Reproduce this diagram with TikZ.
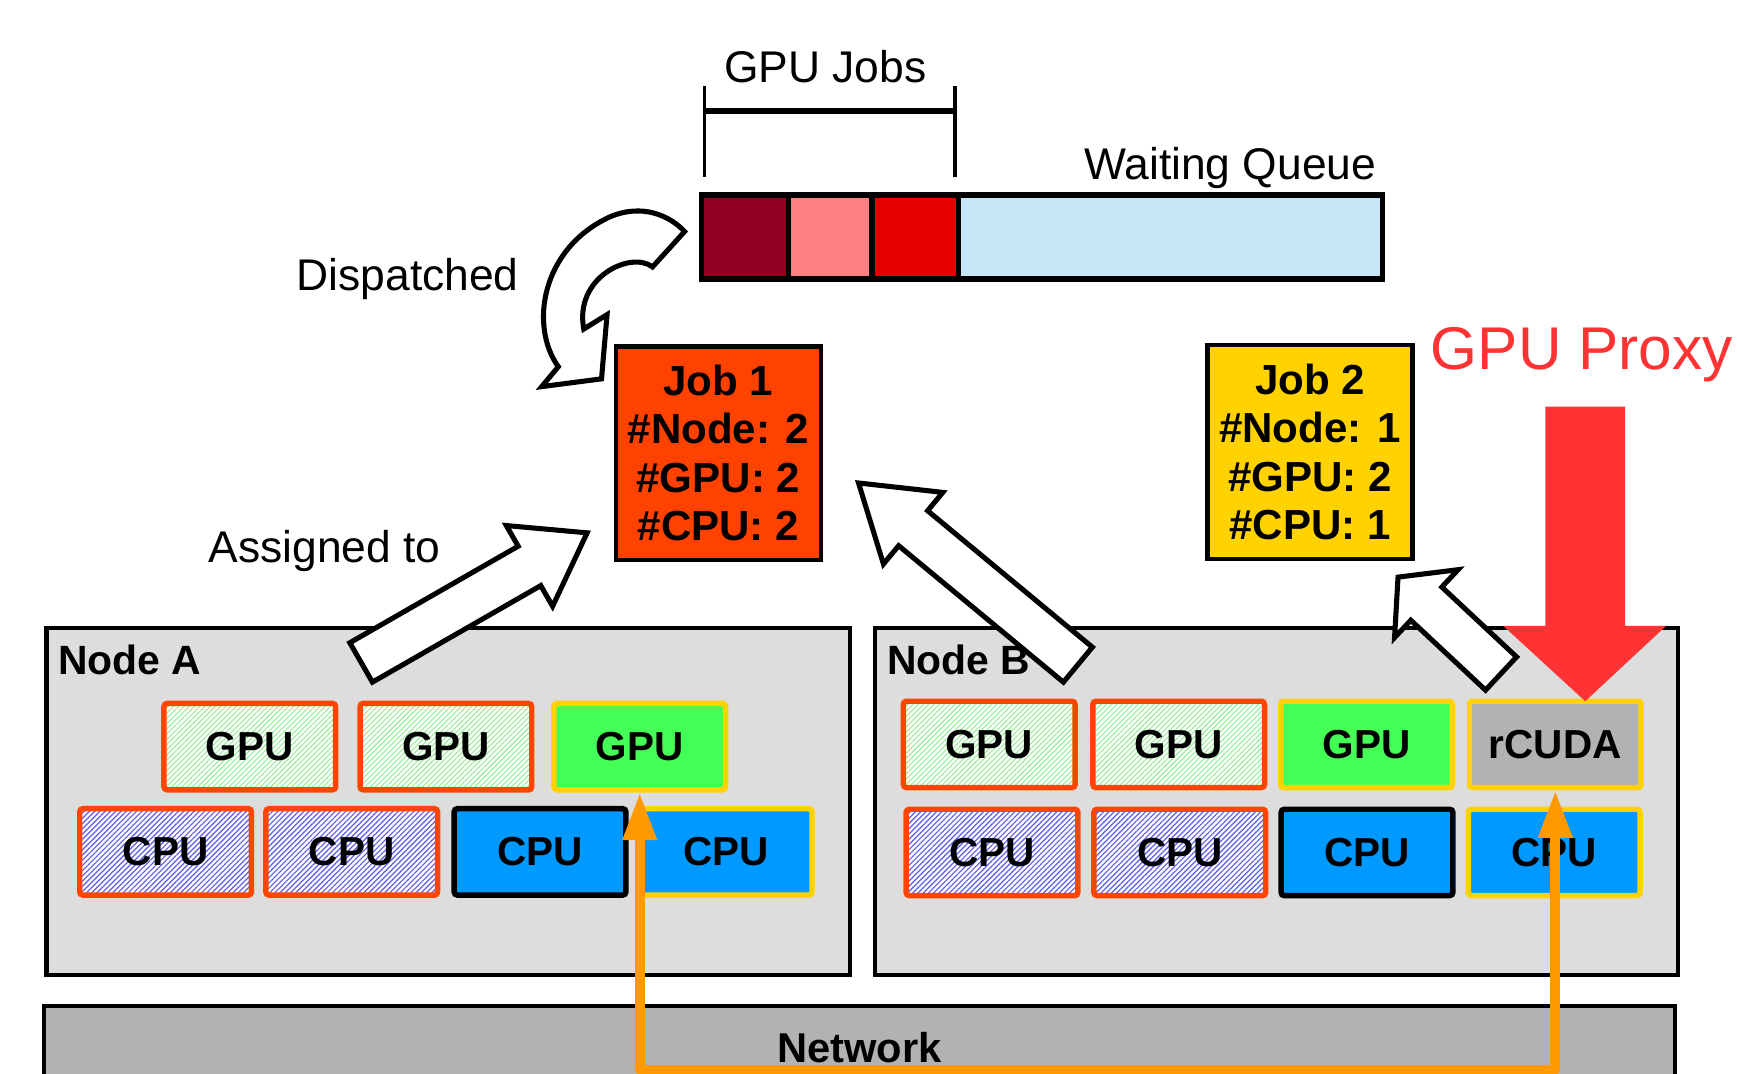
\documentclass[tikz,border=0pt]{standalone}
\usepackage{fontspec}
\setmainfont{Liberation Sans}
\usetikzlibrary{calc,positioning,patterns.meta,arrows.meta}

\definecolor{qdark}{HTML}{900020}
\definecolor{qpink}{HTML}{FF8080}
\definecolor{qred}{HTML}{E60000}
\definecolor{qblue}{HTML}{C6E6F5}
\definecolor{jobone}{HTML}{FF4200}
\definecolor{jobtwo}{HTML}{FFD200}
\definecolor{hostgray}{HTML}{DDDDDD}
\definecolor{netgray}{HTML}{B2B2B2}
\definecolor{oneedge}{HTML}{FF4500}
\definecolor{twoedge}{HTML}{FFD200}
\definecolor{gpugreen}{HTML}{44FF55}
\definecolor{cpublue}{HTML}{0099FF}
\definecolor{hatchgreen}{HTML}{99EE99}
\definecolor{hatchblue}{HTML}{5A5AEE}
\definecolor{proxyred}{HTML}{FF3333}
\definecolor{linkorange}{HTML}{FF9900}

\tikzset{
  lbl/.style={inner sep=0pt, font=\fontsize{11.4}{13}\selectfont},
  qseg/.style={draw, line width=1.4pt, minimum height=7.6mm, inner sep=0pt, outer sep=0pt},
  jobbox/.style={draw, line width=1.2pt, minimum width=18.5mm, minimum height=19.3mm, inner sep=0pt, align=center, font=\bfseries\fontsize{10.8}{12.4}\selectfont},
  host/.style={draw, fill=hostgray, line width=1.1pt, minimum width=72.5mm, minimum height=31.3mm, inner sep=0pt},
  hostlbl/.style={anchor=west, inner sep=0pt, font=\bfseries\fontsize{10.5}{12}\selectfont},
  unit/.style={rectangle, rounded corners=0.8pt, line width=1.4pt, minimum width=15.5mm, minimum height=7.8mm, inner sep=0pt, font=\bfseries\fontsize{10.4}{12}\selectfont},
  gpuhatch/.style={unit, draw=oneedge, preaction={fill=white}, pattern={Lines[angle=45,distance=0.95pt,line width=0.28pt]}, pattern color=hatchgreen},
  cpuhatch/.style={unit, draw=oneedge, preaction={fill=white}, pattern={Lines[angle=45,distance=0.95pt,line width=0.3pt]}, pattern color=hatchblue},
  gpufree/.style={unit, draw=twoedge, fill=gpugreen},
  cpufree/.style={unit, draw=black, fill=cpublue},
  cputwo/.style={unit, draw=twoedge, fill=cpublue},
  remote/.style={unit, draw=twoedge, fill=netgray},
  bigarrow/.style={draw, fill=white, line width=1.3pt, line join=miter},
  link/.style={draw=linkorange, line width=0.9mm, line join=round,
    arrows={Triangle[length=4.3mm,width=2.9mm]-Triangle[length=4.3mm,width=2.9mm]}}
}

% hollow block arrow: tail, tip, head length
\newcommand{\fatarrow}[3]{%
  \path ($(#2)!#3!(#1)$) coordinate (fa-base);
  \draw[bigarrow] ($(#1)!2.05mm!90:(#2)$) -- ($(fa-base)!2.05mm!90:(#2)$)
    -- ($(fa-base)!4.2mm!90:(#2)$) -- (#2) -- ($(fa-base)!4.2mm!-90:(#2)$)
    -- ($(fa-base)!2.05mm!-90:(#2)$) -- ($(#1)!2.05mm!-90:(#2)$) -- cycle;}

\begin{document}
\begin{tikzpicture}[x=0.1mm,y=-0.1mm]
  \useasboundingbox (0,0) rectangle (1568,969);

  % waiting queue
  \node[lbl] (gpujobs) at (745,60) {GPU Jobs};
  \draw[line width=0.9pt] (636,78) -- (636,160);
  \draw[line width=0.9pt] (862,78) -- (862,160);
  \draw[line width=1.5pt] (636,100) -- (862,100);
  \node[lbl, anchor=east] (waitlbl) at (1243,152) {Waiting Queue};
  \node[qseg, fill=qdark, minimum width=7.9mm] (q1) at (672.5,214) {};
  \node[qseg, fill=qpink, minimum width=7.5mm, right=0pt of q1] (q2) {};
  \node[qseg, fill=qred, minimum width=7.8mm, right=0pt of q2] (q3) {};
  \node[qseg, fill=qblue, minimum width=38.3mm, right=0pt of q3] (q4) {};

  % jobs
  \node[lbl] (displbl) at (368,252) {Dispatched};
  \node[lbl] (asgnlbl) at (293,497) {Assigned to};
  \node[jobbox, fill=jobone] (job1) at (648.5,409) {Job 1\\\#Node: 2\\\#GPU: 2\\\#CPU: 2};
  \node[jobbox, fill=jobtwo] (job2) at (1182.5,408) {Job 2\\\#Node: 1\\\#GPU: 2\\\#CPU: 1};
  \node[lbl, anchor=west, text=proxyred, font=\fontsize{15.5}{18}\selectfont] (proxylbl) at (1291,320) {GPU Proxy};

  % hosts
  \node[host] (nodeA) at (404.5,723.5) {};
  \node[host] (nodeB) at (1152.5,723.5) {};
  \node[host, fill=netgray, minimum width=147.2mm, minimum height=7.6mm, font=\bfseries\fontsize{10.7}{12}\selectfont] (net) at (776,946) {Network};
  \node[hostlbl] (labA) at (52,596) {Node A};
  \node[hostlbl] (labB) at (800,596) {Node B};

  \node[gpuhatch] (gpuA1) at (225.5,674) {GPU};
  \node[gpuhatch] (gpuA2) at (402.5,674) {GPU};
  \node[gpufree] (gpuA3) at (577.5,674) {GPU};
  \node[cpuhatch] (cpuA1) at (149.5,769) {CPU};
  \node[cpuhatch] (cpuA2) at (317.5,769) {CPU};
  \node[cputwo] (cpuA4) at (655.5,769) {CPU};
  \node[cpufree] (cpuA3) at (487.5,769) {CPU};

  \node[gpuhatch] (gpuB1) at (893,672) {GPU};
  \node[gpuhatch] (gpuB2) at (1064,672) {GPU};
  \node[gpufree] (gpuB3) at (1233.5,672) {GPU};
  \node[remote] (rcuda) at (1404,672) {rCUDA};
  \node[cpuhatch] (cpuB1) at (895.5,769.5) {CPU};
  \node[cpuhatch] (cpuB2) at (1065,769.5) {CPU};
  \node[cpufree] (cpuB3) at (1234,769.5) {CPU};
  \node[cputwo] (cpuB4) at (1403,769.5) {CPU};

  % dispatch arrow
  \draw[bigarrow] (618,209) -- (589,241) .. controls (570,226) and (518,250) .. (527,297)
    -- (548,284) -- (543,342) -- (489,349) -- (504,331)
    .. controls (478,295) and (488,225) .. (550,196) .. controls (580,183) and (605,195) .. (618,209) -- cycle;

  % assignment arrows
  \coordinate (tailA) at (326,598);
  \coordinate (tipA) at (530,481);
  \coordinate (tailB) at (973,600);
  \coordinate (tipB) at (775,436);
  \coordinate (tailC) at (1355,608);
  \coordinate (tipC) at (1262,521);
  \fatarrow{tailA}{tipA}{6mm}
  \fatarrow{tailB}{tipB}{6.4mm}
  \fatarrow{tailC}{tipC}{3.5mm}

  % proxy arrow
  \fill[proxyred] (1395,367) -- (1467,367) -- (1467,565) -- (1504,565) -- (1431,633)
    -- (1357,565) -- (1395,565) -- cycle;

  % remote GPU link
  \draw[link] (gpuA3.south) -- ++(0,250) -| (rcuda.south);
\end{tikzpicture}
\end{document}
